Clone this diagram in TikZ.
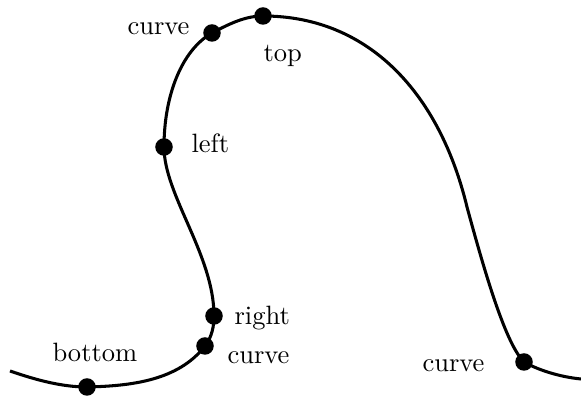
\documentclass[tikz,border=0pt]{standalone}
\begin{document}
\begin{tikzpicture}[x=0.377pt,y=-0.377pt,
  dot/.style={circle,fill=black,inner sep=0pt,minimum size=6.6pt},
  lbl/.style={inner sep=0pt,anchor=base west,font=\fontsize{10}{12}\selectfont},
  curveline/.style={line width=1.15pt}]
\useasboundingbox (0,0) rectangle (581,398);
\coordinate (s) at (10,371);
\coordinate (b) at (87,387);
\coordinate (c1) at (205,346);
\coordinate (r) at (214,316);
\coordinate (l) at (164,147);
\coordinate (c2) at (212,33);
\coordinate (t) at (263,16);
\coordinate (m) at (467,207);
\coordinate (c3) at (524,362);
\coordinate (e) at (581,379);
\draw[curveline] (s) .. controls (36,380) and (62,387) .. (b)
  .. controls (130,386) and (178,381) .. (c1)
  .. controls (212,337) and (214,326) .. (r)
  .. controls (214,255) and (164,195) .. (l)
  .. controls (164,95) and (182,50) .. (c2)
  .. controls (229,24) and (245,16) .. (t)
  .. controls (370,16) and (440,95) .. (m)
  .. controls (486,277) and (506,344) .. (c3)
  .. controls (538,370) and (560,377) .. (e);
\node[dot] (nb) at (b) {};
\node[dot] (nc1) at (c1) {};
\node[dot] (nr) at (r) {};
\node[dot] (nl) at (l) {};
\node[dot] (nc2) at (c2) {};
\node[dot] (nt) at (t) {};
\node[dot] (nc3) at (c3) {};
\node[lbl] (lb) at (52,362) {bottom};
\node[lbl] (lc1) at (227,364) {curve};
\node[lbl] (lr) at (234,325) {right};
\node[lbl] (ll) at (191,153) {left};
\node[lbl] (lc2) at (127,35) {curve};
\node[lbl] (lt) at (263,62) {top};
\node[lbl] (lc3) at (422,372) {curve};
\end{tikzpicture}
\end{document}
